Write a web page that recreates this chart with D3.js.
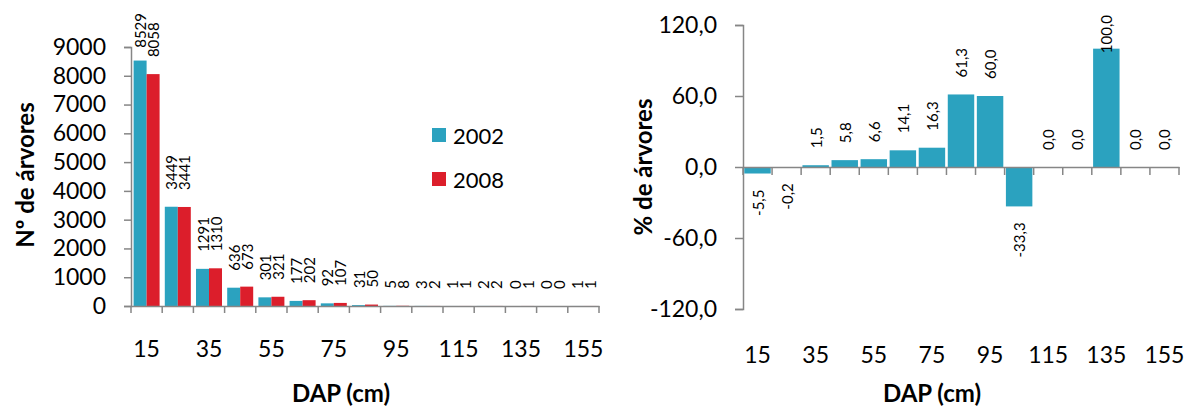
<!DOCTYPE html>
<html><head><meta charset="utf-8">
<script src="https://cdn.jsdelivr.net/npm/d3@7"></script>
<style>
html,body{margin:0;padding:0;background:#fff;}
svg{display:block;}
text{font-family:Lato,"Open Sans",sans-serif;fill:#000;}
</style></head>
<body>
<svg id="chart" width="1195" height="406"></svg>
<script>
const categories = ["15","25","35","45","55","65","75","85","95","105","115","125","135","145","155"];
const tickLabels = ["15","35","55","75","95","115","135","155"];
const series = ["2002","2008"];
const counts2002 = [8529,3449,1291,636,301,177,92,31,5,3,1,2,0,0,1];
const counts2008 = [8058,3441,1310,673,321,202,107,50,8,2,1,2,1,0,1];
const pctChange = [-5.5,-0.2,1.5,5.8,6.6,14.1,16.3,61.3,60.0,-33.3,0.0,0.0,100.0,0.0,0.0];
const leftYTicks = [0,1000,2000,3000,4000,5000,6000,7000,8000,9000];
const rightYTicks = [-120,-60,0,60,120];

const colors = {"2002":"#2ba2bf","2008":"#dc1e2b"};
const axisColor = "#868686";
const svg = d3.select("#chart");
const fmtPct = v => v.toFixed(1).replace(".", ",");

function styleAxis(g){
  g.select(".domain").attr("stroke", axisColor).attr("stroke-width", 1.5);
  g.selectAll(".tick line").attr("stroke", axisColor).attr("stroke-width", 1.5);
}

/* ---------- LEFT CHART ---------- */
{
  const L = {x0:131, x1:599, y0:306, y1:47};
  const x = d3.scaleBand().domain(categories).range([L.x0, L.x1]).paddingInner(0).paddingOuter(0);
  const x1 = d3.scaleBand().domain(series).range([0, x.bandwidth()]).paddingInner(0).paddingOuter(0.2);
  const y = d3.scaleLinear().domain([0, 9000]).range([L.y0, L.y1]);
  const g = svg.append("g");

  const ya = g.append("g").attr("transform", `translate(${L.x0},0)`)
    .call(d3.axisLeft(y).tickValues(leftYTicks).tickSize(7).tickPadding(18).tickFormat(d3.format("d")));
  styleAxis(ya);
  ya.selectAll(".tick text").attr("font-size", 23).attr("fill","#000").attr("font-family","Lato");

  const data = categories.map((c,i)=>({c, v:{"2002":counts2002[i], "2008":counts2008[i]}}));
  const bars = [];
  data.forEach(d => series.forEach(s => bars.push({c:d.c, s, v:d.v[s]})));
  g.selectAll("rect.bar").data(bars).join("rect")
    .attr("x", d => x(d.c) + x1(d.s))
    .attr("width", x1.bandwidth())
    .attr("y", d => y(d.v))
    .attr("height", d => y(0) - y(d.v))
    .attr("fill", d => colors[d.s]);

  const xa = g.append("g").attr("transform", `translate(0,${L.y0})`)
    .call(d3.axisBottom(x).tickSize(0).tickFormat(""));
  styleAxis(xa);
  xa.selectAll(".tick").remove();
  const bounds = categories.map(c => x(c)).concat([x.range()[1]]);
  xa.selectAll("line.b").data(bounds).join("line").attr("class","b")
    .attr("x1", d=>d).attr("x2", d=>d).attr("y1",0).attr("y2",7)
    .attr("stroke", axisColor).attr("stroke-width",1.5);
  g.selectAll("text.xl").data(tickLabels).join("text").attr("class","xl")
    .attr("x", d => x(d) + x.bandwidth()/2).attr("y", 348)
    .attr("text-anchor","middle").attr("dominant-baseline","central")
    .attr("font-size", 23).text(d=>d);

  g.selectAll("text.vl").data(bars).join("text").attr("class","vl")
    .attr("font-size", 15)
    .attr("text-anchor","start").attr("dominant-baseline","central")
    .text(d => d.v)
    .each(function(d){
      const len = this.getComputedTextLength();
      let ay = y(d.v) - 17;
      if (ay - len < 13) ay = 13 + len;
      const cx = x(d.c) + x1(d.s) + x1.bandwidth()/2;
      d3.select(this).attr("transform", `translate(${cx},${ay}) rotate(-90)`);
    });

  g.append("text").attr("transform","translate(24,175) rotate(-90)")
    .attr("text-anchor","middle").attr("dominant-baseline","central")
    .attr("font-size", 24).attr("font-weight","bold").text("Nº de árvores");
  g.append("text").attr("x", 341).attr("y", 392)
    .attr("text-anchor","middle").attr("dominant-baseline","central")
    .attr("font-size", 24).attr("font-weight","bold").text("DAP (cm)");

  const lg = g.append("g");
  series.forEach((s,i)=>{
    const yy = 135 + i*44;
    lg.append("rect").attr("x",432).attr("y",yy-7).attr("width",14).attr("height",14).attr("fill",colors[s]);
    lg.append("text").attr("x",453).attr("y",yy).attr("dominant-baseline","central")
      .attr("font-size",22).text(s);
  });
}

/* ---------- RIGHT CHART ---------- */
{
  const R = {x0:743, x1:1179, y0:309, y1:25};
  const x = d3.scaleBand().domain(categories).range([R.x0, R.x1]).paddingInner(0.09).paddingOuter(0.045);
  const xb = d3.scaleBand().domain(categories).range([R.x0, R.x1]).padding(0);
  const y = d3.scaleLinear().domain([-120, 120]).range([R.y0, R.y1]);
  const g = svg.append("g");

  const ya = g.append("g").attr("transform", `translate(${R.x0},0)`)
    .call(d3.axisLeft(y).tickValues(rightYTicks).tickSize(8).tickPadding(18).tickFormat(fmtPct));
  styleAxis(ya);
  ya.selectAll(".tick text").attr("font-size", 23).attr("fill","#000").attr("font-family","Lato");

  const data = categories.map((c,i)=>({c, v:pctChange[i]}));
  g.selectAll("rect.bar").data(data).join("rect")
    .attr("x", d => x(d.c)).attr("width", x.bandwidth())
    .attr("y", d => y(Math.max(0,d.v)))
    .attr("height", d => Math.abs(y(d.v) - y(0)))
    .attr("fill", colors["2002"]);

  const xa = g.append("g").attr("transform", `translate(0,${y(0)})`)
    .call(d3.axisBottom(xb).tickSize(0).tickFormat(""));
  styleAxis(xa);
  xa.selectAll(".tick").remove();
  const bounds = categories.map(c => xb(c)).concat([xb.range()[1]]);
  xa.selectAll("line.b").data(bounds).join("line").attr("class","b")
    .attr("x1", d=>d).attr("x2", d=>d).attr("y1",0).attr("y2",8)
    .attr("stroke", axisColor).attr("stroke-width",1.5);

  g.selectAll("text.xl").data(tickLabels).join("text").attr("class","xl")
    .attr("x", d => xb(d) + xb.bandwidth()/2).attr("y", 354)
    .attr("text-anchor","middle").attr("dominant-baseline","central")
    .attr("font-size", 23).text(d=>d);

  g.selectAll("text.vl").data(data).join("text").attr("class","vl")
    .attr("font-size", 15).attr("dominant-baseline","central")
    .attr("text-anchor", d => d.v < 0 ? "end" : "start")
    .text(d => fmtPct(d.v))
    .each(function(d){
      const len = this.getComputedTextLength();
      let ay;
      if (d.v < 0) ay = y(d.v) + 16;
      else { ay = y(d.v) - 17; if (ay - len < 15) ay = 15 + len; }
      const cx = x(d.c) + x.bandwidth()/2;
      d3.select(this).attr("transform", `translate(${cx},${ay}) rotate(-90)`);
    });

  g.append("text").attr("transform","translate(642,167) rotate(-90)")
    .attr("text-anchor","middle").attr("dominant-baseline","central")
    .attr("font-size", 24).attr("font-weight","bold").text("% de árvores");
  g.append("text").attr("x", 932).attr("y", 392)
    .attr("text-anchor","middle").attr("dominant-baseline","central")
    .attr("font-size", 24).attr("font-weight","bold").text("DAP (cm)");
}
</script>
</body></html>
